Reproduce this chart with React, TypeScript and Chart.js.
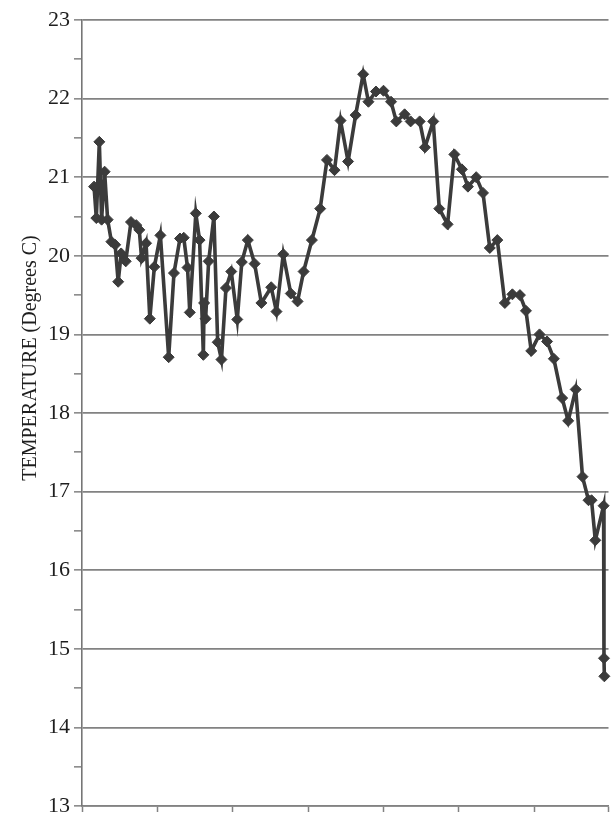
import { useEffect, useRef } from "react";
import { Chart, registerables } from "chart.js";

Chart.register(...registerables);

// Elapsed time (axis units, one unit per x tick) and temperature readings
const timeValues = [
  0.16, 0.19, 0.23, 0.26, 0.3, 0.34, 0.39, 0.44, 0.48, 0.52,
  0.58, 0.65, 0.72, 0.76, 0.79, 0.85, 0.9, 0.96, 1.04, 1.15,
  1.22, 1.3, 1.35, 1.4, 1.43, 1.51, 1.56, 1.61, 1.62, 1.64,
  1.68, 1.75, 1.8, 1.85, 1.91, 1.98, 2.06, 2.12, 2.2, 2.29,
  2.38, 2.51, 2.58, 2.67, 2.77, 2.86, 2.94, 3.05, 3.16, 3.25,
  3.35, 3.43, 3.53, 3.63, 3.73, 3.8, 3.9, 4.0, 4.1, 4.17,
  4.28, 4.36, 4.48, 4.55, 4.66, 4.74, 4.85, 4.94, 5.04, 5.12,
  5.23, 5.32, 5.41, 5.51, 5.61, 5.71, 5.81, 5.89, 5.96, 6.07,
  6.17, 6.26, 6.37, 6.45, 6.55, 6.64, 6.72, 6.76, 6.81, 6.92,
  6.925, 6.93,
];

const temperatureValues = [
  20.88, 20.48, 21.45, 20.46, 21.07, 20.46, 20.18, 20.14, 19.67, 20.03,
  19.93, 20.43, 20.39, 20.33, 19.97, 20.16, 19.2, 19.86, 20.26, 18.71,
  19.78, 20.22, 20.23, 19.85, 19.28, 20.54, 20.2, 18.74, 19.4, 19.2,
  19.93, 20.5, 18.9, 18.68, 19.59, 19.8, 19.19, 19.92, 20.2, 19.9,
  19.4, 19.6, 19.29, 20.02, 19.52, 19.42, 19.8, 20.2, 20.6, 21.22,
  21.09, 21.72, 21.2, 21.79, 22.31, 21.96, 22.09, 22.1, 21.96, 21.71,
  21.8, 21.71, 21.71, 21.38, 21.71, 20.6, 20.4, 21.29, 21.1, 20.88,
  21.0, 20.8, 20.1, 20.2, 19.4, 19.51, 19.5, 19.3, 18.79, 19.0,
  18.91, 18.69, 18.19, 17.9, 18.3, 17.19, 16.89, 16.89, 16.38, 16.82,
  14.88, 14.65,
];

const yAxisTitle = "TEMPERATURE (Degrees C)";
const yMin = 13;
const yMax = 23;
const yStep = 0.5;
const xMin = 0;
const xMax = 6.985;
const xStep = 1;

const lineColor = "#3b3b3b";
const gridColor = "#828282";
const textColor = "#1e1e1e";
const serif = "'Liberation Serif', 'Times New Roman', serif";

const yTitlePlugin = {
  id: "yTitlePlugin",
  afterDraw(chart: any) {
    const { ctx, chartArea } = chart;
    ctx.save();
    ctx.translate(chartArea.left - 46, chartArea.top + (chartArea.bottom - chartArea.top) * 0.43);
    ctx.rotate(-Math.PI / 2);
    ctx.font = `20px ${serif}`;
    ctx.fillStyle = textColor;
    ctx.textAlign = "center";
    ctx.textBaseline = "alphabetic";
    ctx.fillText(yAxisTitle, 0, 0);
    ctx.restore();
  },
};

export default function App() {
  const canvasRef = useRef<HTMLCanvasElement | null>(null);

  useEffect(() => {
    if (!canvasRef.current) return;
    const points = timeValues.map((t, i) => ({ x: t, y: temperatureValues[i] }));
    const chart = new Chart(canvasRef.current, {
      type: "line",
      data: {
        datasets: [
          {
            data: points,
            borderColor: lineColor,
            backgroundColor: lineColor,
            borderWidth: 3.6,
            pointStyle: "rectRot",
            pointRadius: 5.5,
            pointBackgroundColor: lineColor,
            pointBorderColor: lineColor,
            pointBorderWidth: 1,
            tension: 0,
            clip: false as any,
          },
        ],
      },
      options: {
        animation: false,
        responsive: true,
        maintainAspectRatio: false,
        layout: { padding: { top: 20, right: 0, bottom: 0, left: 0 } },
        plugins: {
          legend: { display: false },
          tooltip: { enabled: false },
        },
        scales: {
          x: {
            type: "linear",
            min: xMin,
            max: xMax,
            ticks: {
              stepSize: xStep,
              callback: () => "",
              padding: 0,
            },
            grid: {
              drawOnChartArea: false,
              drawTicks: true,
              tickLength: 6,
              tickColor: gridColor,
              tickWidth: 1.5,
            },
            border: { display: true, color: gridColor, width: 1.6 },
            afterFit: (scale: any) => {
              scale.height = 8;
              scale.paddingTop = 0;
              scale.paddingBottom = 0;
            },
          },
          y: {
            type: "linear",
            min: yMin,
            max: yMax,
            ticks: {
              stepSize: yStep,
              autoSkip: false,
              padding: 4,
              color: textColor,
              font: { family: serif, size: 22, lineHeight: 0.2 },
              callback: (v: any) => (Number.isInteger(Number(v)) ? String(v) : ""),
            },
            grid: {
              color: (ctx: any) =>
                ctx.tick && Number.isInteger(ctx.tick.value) ? gridColor : "rgba(0,0,0,0)",
              tickColor: gridColor,
              lineWidth: 1.7,
              tickWidth: 1.5,
              tickLength: 8,
            },
            border: { display: true, color: "#767676", width: 1.6 },
            afterFit: (scale: any) => {
              scale.width = 82;
              scale.paddingTop = 0;
              scale.paddingBottom = 0;
            },
          },
        },
      },
      plugins: [yTitlePlugin],
    });
    return () => chart.destroy();
  }, []);

  return (
    <div style={{ position: "fixed", left: 0, top: 0, width: 615, height: 814, background: "#fff" }}>
      <canvas ref={canvasRef} />
    </div>
  );
}
